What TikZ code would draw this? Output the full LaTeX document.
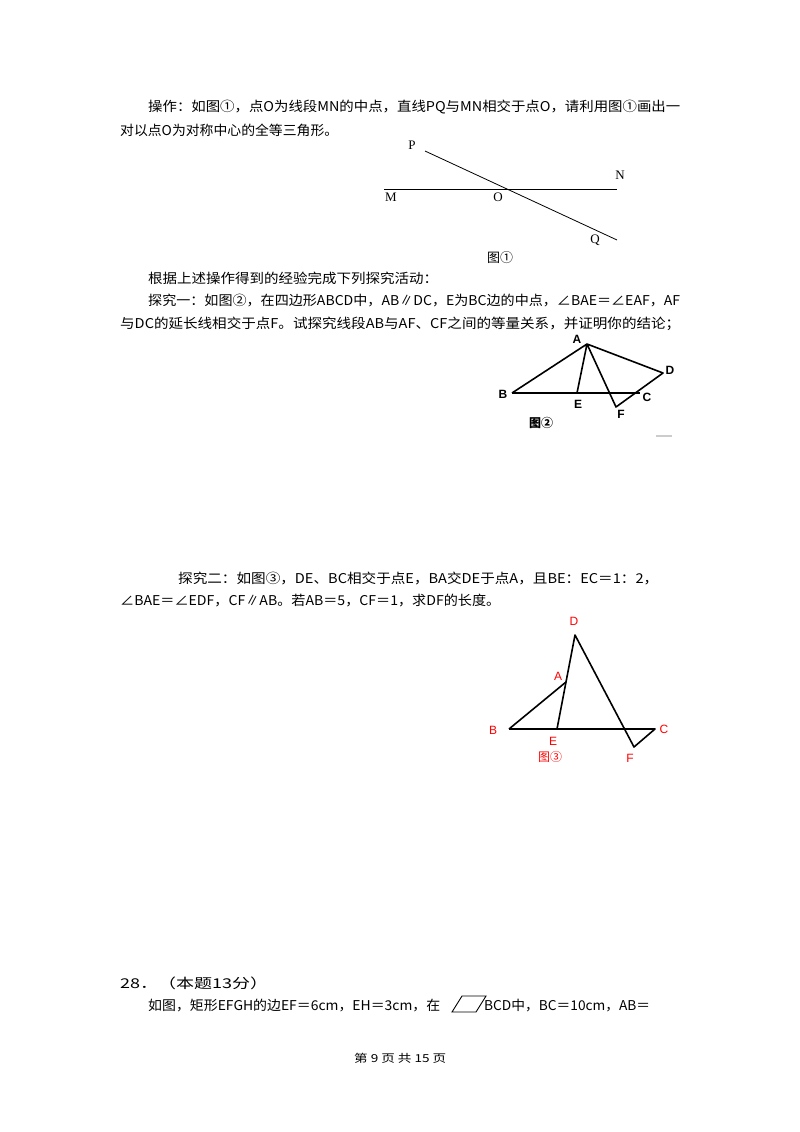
\documentclass[tikz,border=0pt]{standalone}
\usepackage{fontspec}
\setmainfont{Noto Sans CJK SC}
\newfontfamily\lsans{Liberation Sans}
\newfontfamily\lserif{Liberation Serif}
\newcommand{\fitw}[2]{\resizebox{#1pt}{\height}{#2}}
\begin{document}
\begin{tikzpicture}[x=1pt,y=-1pt,
  txt/.style={anchor=west,inner sep=0pt,font=\fontsize{13.5}{14}\selectfont},
  lbl/.style={inner sep=0pt,font=\lserif\fontsize{13}{14}\selectfont},
  lb2/.style={inner sep=0pt,font=\lsans\bfseries\fontsize{12}{13}\selectfont},
  lb3/.style={inner sep=0pt,text=red,font=\lsans\fontsize{12}{13}\selectfont},
  ln/.style={line width=0.8pt},
  thk/.style={line width=1.6pt,line join=round}]
\useasboundingbox (0,0) rectangle (800,1132);
\fill[white] (0,0) rectangle (800,1132);
% text
\node[txt] (t1) at (148,107) {\fitw{532}{操作：如图①，点O为线段MN的中点，直线PQ与MN相交于点O，请利用图①画出一}};
\node[txt] (t2) at (120,130) {\fitw{218}{对以点O为对称中心的全等三角形。}};
\node[txt] (t3) at (148,278) {\fitw{290}{根据上述操作得到的经验完成下列探究活动：}};
\node[txt] (t4) at (148,301) {\fitw{532}{探究一：如图②，在四边形ABCD中，AB∥DC，E为BC边的中点，∠BAE＝∠EAF，AF}};
\node[txt] (t5) at (120,324) {\fitw{560}{与DC的延长线相交于点F。试探究线段AB与AF、CF之间的等量关系，并证明你的结论；}};
\node[txt] (t6) at (178,578) {\fitw{480}{探究二：如图③，DE、BC相交于点E，BA交DE于点A，且BE：EC＝1：2，}};
\node[txt] (t7) at (120,601) {\fitw{380}{∠BAE＝∠EDF，CF∥AB。若AB＝5，CF＝1，求DF的长度。}};
\node[txt] (t8) at (120,983) {\fitw{148}{28．（本题13分）}};
\node[txt] (t9) at (148,1006) {\fitw{292}{如图，矩形EFGH的边EF＝6cm，EH＝3cm，在}};
\node[txt] (t10) at (484,1006) {\fitw{166}{BCD中，BC＝10cm，AB＝}};
\draw[line width=0.9pt] (452,1012) -- (462,996) -- (486,996) -- (476,1012) -- cycle;
\node[txt,font=\fontsize{11}{12}\selectfont] (pg) at (354,1058) {\fitw{92}{第 9 页 共 15 页}};
% figure 1
\coordinate (M) at (384,189); \coordinate (N) at (617,189);
\coordinate (P) at (425,151); \coordinate (Q) at (617,240);
\draw[ln] (M) -- (N); \draw[ln] (P) -- (Q);
\node[lbl] at (412,145) {P};
\node[lbl] at (620,175) {N};
\node[lbl] at (391,197) {M};
\node[lbl] at (498,197) {O};
\node[lbl] at (595,240) {Q};
\node[inner sep=0pt,font=\fontsize{13}{14}\selectfont] at (500,258) {图①};
% figure 2
\coordinate (A2) at (587,344); \coordinate (B2) at (512,393);
\coordinate (E2) at (577,393); \coordinate (C2) at (640,393);
\coordinate (D2) at (663,373); \coordinate (F2) at (616,407);
\draw[thk] (B2) -- (A2) -- (D2) -- (F2) -- (A2) -- (E2);
\draw[thk] (B2) -- (C2);
\node[lb2] at (577,339) {A};
\node[lb2] at (503,394) {B};
\node[lb2] at (578,404) {E};
\node[lb2] at (647,397) {C};
\node[lb2] at (670,370) {D};
\node[lb2] at (621,414) {F};
\node[inner sep=0pt,font=\bfseries\fontsize{12}{13}\selectfont] at (541,423) {图②};
\draw[line width=1.5pt,gray!40] (656,436) -- (672,436);
% figure 3
\coordinate (D3) at (575,635); \coordinate (A3) at (566,682);
\coordinate (E3) at (557,729); \coordinate (B3) at (509,729);
\coordinate (C3) at (655,729); \coordinate (F3) at (634,747);
\draw[thk] (B3) -- (A3);
\draw[thk] (E3) -- (D3) -- (F3) -- (C3) -- (B3);
\node[lb3] at (574,621) {D};
\node[lb3] at (558,676) {A};
\node[lb3] at (493,730) {B};
\node[lb3] at (553,741) {E};
\node[lb3] at (664,729) {C};
\node[lb3] at (630,758) {F};
\node[inner sep=0pt,text=red,font=\fontsize{12}{13}\selectfont] at (550,757) {图③};
\end{tikzpicture}
\end{document}
